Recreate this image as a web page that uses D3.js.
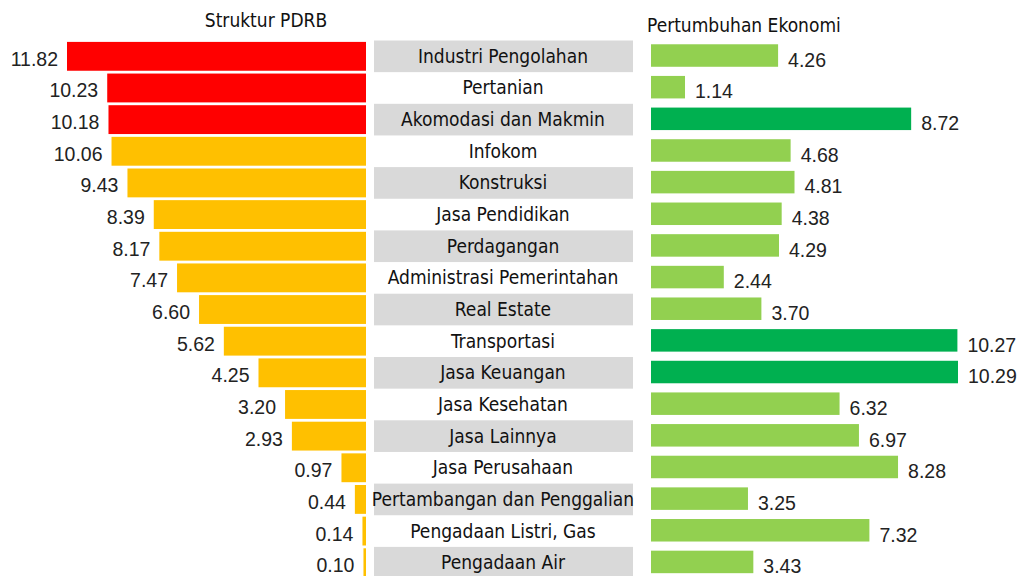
<!DOCTYPE html>
<html><head><meta charset="utf-8">
<script src="https://cdn.jsdelivr.net/npm/d3@7"></script>
<style>
body{margin:0;background:#fff;}
svg{display:block;}
</style></head>
<body>
<svg id="chart" width="1019" height="576"></svg>
<script>
const categories = ["Industri Pengolahan","Pertanian","Akomodasi dan Makmin","Infokom","Konstruksi","Jasa Pendidikan","Perdagangan","Administrasi Pemerintahan","Real Estate","Transportasi","Jasa Keuangan","Jasa Kesehatan","Jasa Lainnya","Jasa Perusahaan","Pertambangan dan Penggalian","Pengadaan Listri, Gas","Pengadaan Air"];
const strukturPDRB = [11.82,10.23,10.18,10.06,9.43,8.39,8.17,7.47,6.60,5.62,4.25,3.20,2.93,0.97,0.44,0.14,0.10];
const pertumbuhan = [4.26,1.14,8.72,4.68,4.81,4.38,4.29,2.44,3.70,10.27,10.29,6.32,6.97,8.28,3.25,7.32,3.43];
const highlightLeft = ["Industri Pengolahan","Pertanian","Akomodasi dan Makmin"];
const highlightRight = ["Akomodasi dan Makmin","Transportasi","Jasa Keuangan"];
const titles = ["Struktur PDRB","Pertumbuhan Ekonomi"];

const svg = d3.select("#chart");
const labelFont = "'Liberation Sans Narrow','DejaVu Sans Condensed',sans-serif";
const numFont = "'Liberation Sans',sans-serif";

const y = d3.scaleBand().domain(categories).range([40.5, 40.5 + 31.65*categories.length]);
const step = y.bandwidth();
const xL = d3.scaleLinear().domain([0, 11.82]).range([366, 67]);
const xR = d3.scaleLinear().domain([0, 10.29]).range([651, 958]);

// middle label boxes
const mid = svg.append("g");
mid.selectAll("rect").data(categories.filter((d,i)=>i%2===0)).join("rect")
  .attr("x", 374).attr("width", 259)
  .attr("y", d => y(d)).attr("height", step)
  .attr("fill", "#d9d9d9");
mid.selectAll("text").data(categories).join("text")
  .attr("x", 503).attr("y", d => y(d) + step/2 + 6.5)
  .attr("text-anchor", "middle")
  .attr("font-family", labelFont).attr("font-size", 19)
  .attr("fill", "#111")
  .text(d => d);

// left bars
const data = categories.map((c,i)=>({c, l: strukturPDRB[i], r: pertumbuhan[i]}));
const left = svg.append("g");
left.selectAll("rect").data(data).join("rect")
  .attr("x", d => xL(d.l)).attr("width", d => xL(0) - xL(d.l))
  .attr("y", d => y(d.c) + 1.4).attr("height", step - 2.8)
  .attr("fill", d => highlightLeft.includes(d.c) ? "#ff0000" : "#ffc000");
left.selectAll("text").data(data).join("text")
  .attr("x", d => xL(d.l) - 9).attr("y", d => y(d.c) + step/2 + 9.5)
  .attr("text-anchor", "end")
  .attr("font-family", numFont).attr("font-size", 19.5)
  .attr("fill", "#222")
  .text(d => d.l.toFixed(2));

// right bars
const right = svg.append("g");
right.selectAll("rect").data(data).join("rect")
  .attr("x", xR(0)).attr("width", d => xR(d.r) - xR(0))
  .attr("y", d => y(d.c) + (step - 22.5)/2 - 0.8).attr("height", 22.5)
  .attr("fill", d => highlightRight.includes(d.c) ? "#00b050" : "#92d050");
right.selectAll("text").data(data).join("text")
  .attr("x", d => xR(d.r) + 10).attr("y", d => y(d.c) + step/2 + 10.5)
  .attr("text-anchor", "start")
  .attr("font-family", numFont).attr("font-size", 19.5)
  .attr("fill", "#222")
  .text(d => d.r.toFixed(2));

// titles
svg.append("text").attr("x", 266).attr("y", 27).attr("text-anchor", "middle")
  .attr("font-family", labelFont).attr("font-size", 19).attr("fill", "#111").text(titles[0]);
svg.append("text").attr("x", 647).attr("y", 32).attr("text-anchor", "start")
  .attr("font-family", labelFont).attr("font-size", 19).attr("fill", "#111").text(titles[1]);
</script>
</body></html>
